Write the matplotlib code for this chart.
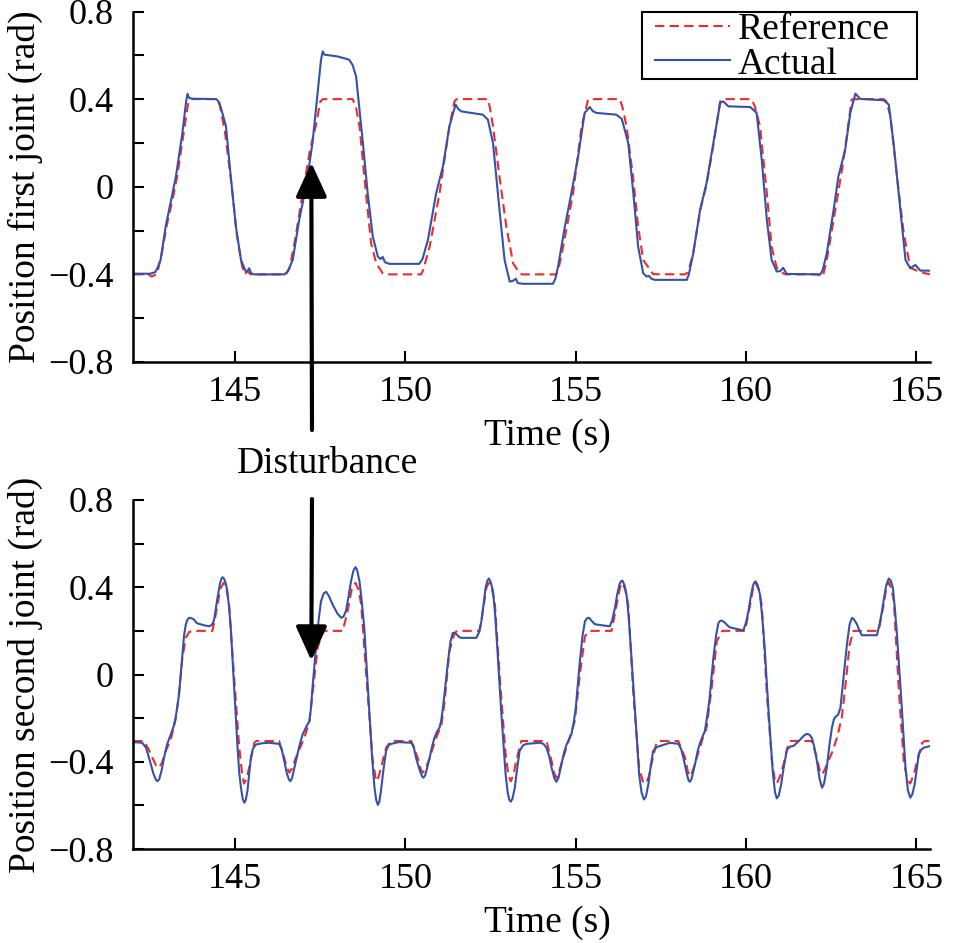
import matplotlib
matplotlib.use("Agg")
import matplotlib.pyplot as plt
from matplotlib.ticker import FixedLocator
from matplotlib.patches import Rectangle

plt.rcParams['font.family'] = ['Liberation Serif', 'DejaVu Serif']

# ---- data (time in s, position in rad) ----
t_ref1 = [142.0, 142.45, 142.55, 142.68, 142.72, 142.85, 143.0, 143.2, 143.3, 143.5, 143.62, 143.7,
          144.47, 144.55, 144.7, 144.9, 145.05, 145.2, 145.28, 145.36, 145.45, 146.49, 146.6, 146.75,
          146.98, 147.2, 147.37, 147.5, 147.58, 148.45, 148.55, 148.65, 148.84, 148.99, 149.14, 149.33,
          149.4, 150.46, 150.52, 150.71, 151.0, 151.29, 151.44, 151.5, 152.42, 152.48, 152.57, 152.76,
          152.96, 153.16, 153.35, 153.42, 154.43, 154.5, 154.63, 154.92, 155.17, 155.36, 155.42, 156.29,
          156.36, 156.49, 156.68, 156.83, 156.98, 157.27, 158.21, 158.3, 158.45, 158.65, 158.84, 159.04,
          159.24, 159.3, 160.16, 160.25, 160.41, 160.61, 160.75, 160.9, 161.09, 161.15, 162.1, 162.18,
          162.27, 162.37, 162.67, 162.86, 163.1, 163.15, 164.04, 164.12, 164.24, 164.43, 164.63, 164.82,
          165.12, 165.4]
ref1 = [-0.40, -0.40, -0.41, -0.40, -0.39, -0.30, -0.17, -0.03, 0.05, 0.26, 0.38, 0.40,
        0.40, 0.37, 0.25, 0.0, -0.22, -0.36, -0.40, -0.385, -0.40, -0.40, -0.37, -0.25,
        -0.03, 0.17, 0.28, 0.39, 0.40, 0.40, 0.36, 0.276, -0.03, -0.257, -0.349, -0.395,
        -0.40, -0.40, -0.38, -0.273, -0.03, 0.276, 0.39, 0.40, 0.40, 0.36, 0.276, 0.047,
        -0.181, -0.349, -0.395, -0.40, -0.40, -0.37, -0.273, -0.03, 0.276, 0.398, 0.40, 0.40,
        0.37, 0.276, 0.047, -0.181, -0.334, -0.399, -0.40, -0.39, -0.30, -0.11, 0.01, 0.19,
        0.39, 0.40, 0.40, 0.37, 0.276, -0.03, -0.273, -0.37, -0.395, -0.40, -0.40, -0.41,
        -0.40, -0.334, -0.06, 0.123, 0.398, 0.40, 0.40, 0.39, 0.32, 0.047, -0.212, -0.37,
        -0.39, -0.40]

t_act1 = [142.0, 142.5, 142.65, 142.72, 142.81, 142.96, 143.16, 143.26, 143.45, 143.56, 143.6, 143.65,
          143.75, 144.45, 144.53, 144.6, 144.73, 144.87, 145.02, 145.17, 145.31, 145.36, 145.41, 145.47,
          145.55, 146.45, 146.55, 146.69, 146.88, 147.08, 147.27, 147.42, 147.52, 147.57, 147.62, 148.0,
          148.35, 148.45, 148.55, 148.75, 148.89, 149.04, 149.19, 149.27, 149.33, 149.4, 149.53, 150.4,
          150.5, 150.66, 150.9, 151.1, 151.29, 151.47, 151.55, 151.64, 152.27, 152.42, 152.57, 152.76,
          152.91, 153.06, 153.15, 153.24, 153.3, 153.45, 154.33, 154.4, 154.48, 154.68, 154.87, 155.07,
          155.26, 155.41, 155.5, 155.61, 156.19, 156.35, 156.54, 156.69, 156.83, 156.98, 157.08, 157.15,
          157.22, 157.32, 158.26, 158.32, 158.45, 158.65, 158.84, 159.04, 159.24, 159.33, 159.48, 160.12,
          160.31, 160.46, 160.61, 160.75, 160.9, 161.0, 161.09, 161.19, 162.18, 162.25, 162.37, 162.57,
          162.71, 162.91, 163.06, 163.21, 163.35, 164.04, 164.19, 164.33, 164.53, 164.68, 164.82, 164.97,
          165.12, 165.4]
act1 = [-0.397, -0.397, -0.39, -0.37, -0.334, -0.181, -0.029, 0.047, 0.245, 0.39, 0.424, 0.405,
        0.402, 0.40, 0.385, 0.35, 0.276, 0.047, -0.181, -0.334, -0.387, -0.385, -0.372, -0.395,
        -0.40, -0.40, -0.385, -0.334, -0.151, 0.0, 0.2, 0.428, 0.58, 0.618, 0.603, 0.595,
        0.58, 0.555, 0.504, 0.2, -0.029, -0.227, -0.319, -0.33, -0.32, -0.345, -0.352, -0.352,
        -0.33, -0.242, -0.03, 0.093, 0.276, 0.375, 0.355, 0.344, 0.329, 0.306, 0.2, -0.105,
        -0.334, -0.433, -0.43, -0.42, -0.44, -0.443, -0.443, -0.42, -0.364, -0.181, -0.03, 0.139,
        0.337, 0.364, 0.345, 0.337, 0.329, 0.31, 0.2, -0.03, -0.273, -0.395, -0.41, -0.407,
        -0.42, -0.425, -0.425, -0.40, -0.303, -0.105, 0.017, 0.2, 0.383, 0.39, 0.367, 0.364,
        0.337, 0.123, -0.151, -0.334, -0.387, -0.385, -0.37, -0.398, -0.40, -0.38, -0.303, -0.105,
        0.047, 0.169, 0.337, 0.425, 0.401, 0.395, 0.375, 0.2, -0.105, -0.334, -0.372, -0.357,
        -0.383, -0.383]

t_ref2 = [142.0, 142.32, 142.45, 142.57, 142.68, 142.76, 142.85, 142.96, 143.11, 143.25, 143.35, 143.45,
          143.55, 143.65, 143.75, 144.33, 144.4, 144.48, 144.57, 144.66, 144.74, 144.82, 144.97, 145.12,
          145.2, 145.26, 145.33, 145.41, 145.56, 145.62, 146.29, 146.44, 146.53, 146.59, 146.67, 146.78,
          147.03, 147.18, 147.27, 147.42, 147.55, 147.62, 148.16, 148.3, 148.42, 148.53, 148.62, 148.7,
          148.89, 149.04, 149.14, 149.21, 149.28, 149.43, 149.58, 150.17, 150.36, 150.45, 150.51, 150.6,
          150.71, 150.9, 151.05, 151.15, 151.29, 151.44, 151.52, 152.18, 152.3, 152.38, 152.45, 152.53,
          152.62, 152.77, 152.94, 153.02, 153.09, 153.17, 153.25, 153.4, 154.14, 154.29, 154.37, 154.43,
          154.52, 154.63, 154.82, 154.97, 155.12, 155.27, 155.4, 156.05, 156.2, 156.3, 156.37, 156.45,
          156.54, 156.69, 156.86, 156.97, 157.06, 157.14, 157.22, 157.37, 157.45, 158.01, 158.21, 158.29,
          158.35, 158.44, 158.55, 158.75, 158.84, 158.99, 159.14, 159.3, 159.97, 160.12, 160.21, 160.28,
          160.37, 160.46, 160.61, 160.76, 160.84, 160.9, 160.99, 161.1, 161.25, 161.3, 161.93, 162.08,
          162.17, 162.23, 162.3, 162.37, 162.52, 162.67, 162.81, 162.91, 163.04, 163.15, 163.89, 164.04,
          164.12, 164.19, 164.27, 164.34, 164.48, 164.63, 164.73, 164.82, 164.92, 165.02, 165.17, 165.25,
          165.4]
ref2 = [-0.305, -0.305, -0.34, -0.382, -0.418, -0.427, -0.405, -0.351, -0.298, -0.206, -0.092, 0.076,
        0.168, 0.195, 0.20, 0.20, 0.25, 0.32, 0.395, 0.42, 0.395, 0.32, -0.015, -0.336,
        -0.45, -0.50, -0.48, -0.427, -0.313, -0.305, -0.305, -0.382, -0.43, -0.45, -0.43, -0.382,
        -0.29, -0.214, -0.092, 0.122, 0.19, 0.20, 0.20, 0.29, 0.39, 0.42, 0.39, 0.32,
        -0.092, -0.397, -0.489, -0.47, -0.427, -0.336, -0.305, -0.305, -0.382, -0.435, -0.45, -0.43,
        -0.382, -0.29, -0.237, -0.122, 0.107, 0.191, 0.20, 0.20, 0.32, 0.40, 0.42, 0.395,
        0.336, -0.015, -0.366, -0.46, -0.49, -0.46, -0.397, -0.305, -0.305, -0.397, -0.455, -0.473,
        -0.44, -0.382, -0.29, -0.214, 0.0, 0.176, 0.20, 0.20, 0.32, 0.40, 0.42, 0.39,
        0.32, -0.092, -0.427, -0.49, -0.50, -0.47, -0.412, -0.313, -0.305, -0.305, -0.382, -0.445,
        -0.466, -0.44, -0.382, -0.282, -0.244, -0.061, 0.153, 0.20, 0.20, 0.32, 0.40, 0.42,
        0.39, 0.32, -0.092, -0.397, -0.48, -0.50, -0.47, -0.412, -0.313, -0.305, -0.305, -0.382,
        -0.445, -0.458, -0.44, -0.412, -0.359, -0.29, -0.198, -0.061, 0.137, 0.20, 0.20, 0.32,
        0.40, 0.424, 0.39, 0.336, -0.061, -0.397, -0.48, -0.50, -0.46, -0.397, -0.313, -0.305,
        -0.305]

t_act2 = [142.0, 142.27, 142.38, 142.47, 142.6, 142.67, 142.72, 142.77, 142.84, 142.91, 143.0, 143.11,
          143.2, 143.25, 143.3, 143.35, 143.45, 143.5, 143.55, 143.6, 143.65, 143.72, 143.79, 143.87,
          143.94, 144.1, 144.24, 144.32, 144.38, 144.43, 144.48, 144.55, 144.6, 144.63, 144.67, 144.72,
          144.77, 144.82, 144.87, 144.97, 145.07, 145.12, 145.17, 145.22, 145.27, 145.31, 145.36, 145.41,
          145.46, 145.52, 145.61, 145.8, 146.0, 146.29, 146.37, 146.44, 146.52, 146.58, 146.62, 146.67,
          146.72, 146.78, 146.88, 146.98, 147.1, 147.18, 147.22, 147.27, 147.37, 147.45, 147.52, 147.6,
          147.67, 147.75, 147.86, 148.0, 148.11, 148.18, 148.25, 148.32, 148.4, 148.47, 148.53, 148.58,
          148.65, 148.72, 148.79, 148.94, 149.02, 149.09, 149.14, 149.19, 149.23, 149.28, 149.35, 149.43,
          149.5, 149.58, 149.8, 150.17, 150.24, 150.31, 150.42, 150.49, 150.53, 150.58, 150.64, 150.71,
          150.78, 150.85, 150.93, 151.0, 151.05, 151.1, 151.25, 151.32, 151.39, 151.45, 151.51, 151.57,
          151.64, 152.08, 152.15, 152.23, 152.3, 152.35, 152.41, 152.45, 152.5, 152.57, 152.63, 152.69,
          152.81, 152.94, 153.0, 153.05, 153.09, 153.14, 153.21, 153.28, 153.35, 153.45, 153.55, 153.94,
          154.05, 154.14, 154.22, 154.29, 154.37, 154.43, 154.49, 154.58, 154.66, 154.73, 154.87, 154.94,
          155.0, 155.12, 155.2, 155.27, 155.33, 155.39, 155.47, 155.55, 155.61, 156.0, 156.07, 156.15,
          156.22, 156.28, 156.33, 156.37, 156.43, 156.49, 156.55, 156.61, 156.74, 156.86, 156.93, 157.0,
          157.06, 157.13, 157.2, 157.27, 157.37, 157.47, 157.77, 158.01, 158.09, 158.16, 158.26, 158.31,
          158.35, 158.4, 158.5, 158.58, 158.65, 158.72, 158.79, 158.85, 158.92, 159.04, 159.12, 159.19,
          159.24, 159.29, 159.36, 159.43, 159.5, 159.58, 159.92, 160.0, 160.07, 160.14, 160.2, 160.24,
          160.28, 160.34, 160.41, 160.47, 160.54, 160.66, 160.79, 160.85, 160.9, 160.96, 161.03, 161.1,
          161.2, 161.3, 161.39, 161.5, 161.59, 161.7, 161.78, 161.86, 161.93, 162.0, 162.08, 162.16,
          162.23, 162.29, 162.37, 162.45, 162.52, 162.58, 162.62, 162.7, 162.77, 162.86, 162.96, 163.04,
          163.11, 163.17, 163.26, 163.33, 163.4, 163.84, 163.92, 163.99, 164.06, 164.12, 164.19, 164.25,
          164.31, 164.37, 164.43, 164.56, 164.68, 164.75, 164.82, 164.88, 164.95, 165.07, 165.14, 165.21,
          165.4]
act2 = [-0.31, -0.313, -0.335, -0.382, -0.455, -0.482, -0.489, -0.48, -0.44, -0.382, -0.32, -0.275,
        -0.235, -0.198, -0.15, -0.092, 0.092, 0.18, 0.229, 0.252, 0.26, 0.258, 0.252, 0.236,
        0.232, 0.225, 0.221, 0.228, 0.25, 0.30, 0.351, 0.415, 0.44, 0.446, 0.44, 0.42,
        0.382, 0.31, 0.214, -0.061, -0.336, -0.45, -0.519, -0.57, -0.588, -0.575, -0.534, -0.46,
        -0.382, -0.34, -0.321, -0.315, -0.313, -0.318, -0.345, -0.397, -0.455, -0.482, -0.489, -0.475,
        -0.44, -0.397, -0.33, -0.275, -0.235, -0.214, -0.16, -0.061, 0.122, 0.25, 0.336, 0.372,
        0.379, 0.36, 0.321, 0.28, 0.26, 0.265, 0.29, 0.35, 0.427, 0.475, 0.492, 0.48,
        0.427, 0.33, 0.214, -0.168, -0.38, -0.519, -0.575, -0.598, -0.585, -0.534, -0.44, -0.351,
        -0.325, -0.318, -0.31, -0.313, -0.33, -0.382, -0.44, -0.468, -0.473, -0.462, -0.425, -0.382,
        -0.33, -0.29, -0.26, -0.244, -0.21, -0.153, 0.061, 0.15, 0.191, 0.19, 0.183, 0.172,
        0.168, 0.168, 0.19, 0.244, 0.33, 0.397, 0.432, 0.44, 0.425, 0.382, 0.28, 0.137,
        -0.168, -0.458, -0.54, -0.575, -0.583, -0.57, -0.519, -0.43, -0.351, -0.325, -0.318, -0.313,
        -0.318, -0.336, -0.375, -0.427, -0.475, -0.492, -0.475, -0.412, -0.355, -0.321, -0.275, -0.22,
        -0.153, 0.061, 0.18, 0.244, 0.258, 0.26, 0.245, 0.232, 0.229, 0.221, 0.25, 0.305,
        0.37, 0.412, 0.428, 0.43, 0.41, 0.366, 0.27, 0.137, -0.168, -0.458, -0.54, -0.573,
        -0.56, -0.504, -0.42, -0.351, -0.333, -0.328, -0.313, -0.318, -0.34, -0.382, -0.455, -0.485,
        -0.492, -0.478, -0.412, -0.35, -0.313, -0.285, -0.26, -0.2, -0.122, 0.076, 0.18, 0.237,
        0.246, 0.247, 0.24, 0.229, 0.218, 0.214, 0.202, 0.24, 0.29, 0.36, 0.405, 0.422,
        0.427, 0.41, 0.366, 0.27, 0.137, -0.168, -0.458, -0.54, -0.568, -0.555, -0.504, -0.43,
        -0.344, -0.33, -0.328, -0.312, -0.298, -0.28, -0.272, -0.276, -0.29, -0.33, -0.397, -0.48,
        -0.519, -0.5, -0.427, -0.32, -0.244, -0.205, -0.195, -0.185, -0.153, -0.015, 0.137, 0.23,
        0.26, 0.252, 0.229, 0.2, 0.18, 0.18, 0.23, 0.29, 0.36, 0.412, 0.44, 0.43,
        0.397, 0.3, 0.183, -0.122, -0.427, -0.53, -0.565, -0.55, -0.504, -0.366, -0.345, -0.336,
        -0.328]

x_ticks = [145, 150, 155, 160, 165]
y_ticks = [-0.8, -0.4, 0, 0.4, 0.8]
y_ticklabels = ['\u22120.8', '\u22120.4', '0', '0.4', '0.8']
y_minor = [-0.6, -0.2, 0.2, 0.6]
ylabels = ['Position first joint (rad)', 'Position second joint (rad)']

RED = '#EE2A2A'
BLUE = '#3352A8'

fig = plt.figure(figsize=(9.54, 9.43), dpi=100)
W, H = 954.0, 943.0
ax1 = fig.add_axes([133 / W, 1 - 362 / H, 797 / W, 350.5 / H])
ax2 = fig.add_axes([133 / W, 1 - 849 / H, 797 / W, 349 / H])

series = [(t_ref1, ref1, t_act1, act1), (t_ref2, ref2, t_act2, act2)]
for ax, (tr, r, ta, a), ylab in zip([ax1, ax2], series, ylabels):
    ax.plot(tr, r, color=RED, lw=1.5, dashes=(4.5, 2.5), label='Reference')
    ax.plot(ta, a, color=BLUE, lw=1.5, label='Actual')
    ax.set_xlim(142.0, 165.4)
    ax.set_ylim(-0.8, 0.8)
    ax.set_xticks(x_ticks)
    ax.set_yticks(y_ticks, y_ticklabels)
    ax.yaxis.set_minor_locator(FixedLocator(y_minor))
    ax.tick_params(which='both', direction='in', length=8, width=1.5, labelsize=26)
    ax.tick_params(axis='x', pad=10)
    ax.tick_params(axis='y', pad=14)
    for s in ['top', 'right']:
        ax.spines[s].set_visible(False)
    for s in ['left', 'bottom']:
        ax.spines[s].set_linewidth(1.8)
    ax.set_xlabel('Time (s)', fontsize=27)
    ax.set_ylabel(ylab, fontsize=27)
    ax.xaxis.set_label_coords(0.52, -0.162)
    ax.yaxis.set_label_coords(-0.1125, 0.5)

# legend: entries without frame, box drawn around them like the original
ax1.legend(loc='upper left', bbox_to_anchor=(0.655, 0.997), borderaxespad=0, borderpad=0,
           fontsize=27, handlelength=2.0, handletextpad=0.2, labelspacing=0.0,
           frameon=False)
ax1.add_patch(Rectangle((0.6386, 0.8074), 0.3451, 0.1912, transform=ax1.transAxes,
                        fill=False, ec='black', lw=1.5, clip_on=False, zorder=6))

# disturbance marker
fig.text(327.5 / W, 1 - 473 / H, 'Disturbance', ha='center', va='baseline', fontsize=27)
arrow = dict(arrowstyle='-|>,head_length=1.05,head_width=0.48', lw=3, color='black',
             shrinkA=0, shrinkB=0, mutation_scale=20)
ax1.annotate('', xy=(147.235, 0.11), xycoords='data',
             xytext=(312 / W, 1 - 430 / H), textcoords='figure fraction',
             arrowprops=arrow, annotation_clip=False)
ax2.annotate('', xy=(147.235, 0.064), xycoords='data',
             xytext=(312 / W, 1 - 499 / H), textcoords='figure fraction',
             arrowprops=arrow, annotation_clip=False)

fig.savefig('out.png', dpi=100)
